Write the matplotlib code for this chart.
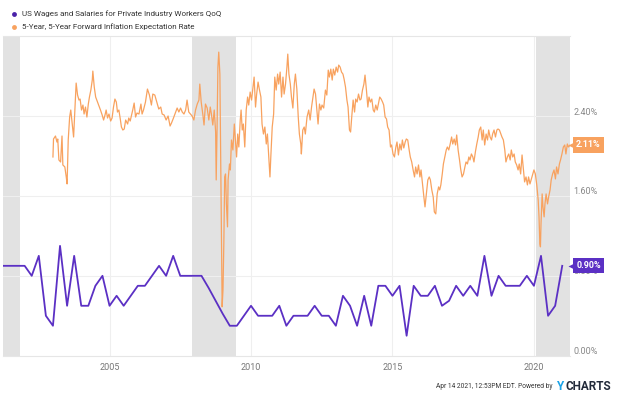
import matplotlib.pyplot as plt
import matplotlib.transforms as mtransforms
from matplotlib.lines import Line2D
import numpy as np

# quarterly QoQ wage growth (%), first quarter 2001 Q2
wage_start = 2001.25
wage_qoq = [0.9, 0.9, 0.9, 0.9, 0.8, 1.0, 0.4, 0.3, 1.1, 0.5,
            1.0, 0.5, 0.5, 0.7, 0.8, 0.5, 0.6, 0.5, 0.6, 0.7,
            0.7, 0.8, 0.9, 0.8, 1.0, 0.8, 0.8, 0.8, 0.8, 0.68,
            0.55, 0.42, 0.3, 0.3, 0.4, 0.5, 0.4, 0.4, 0.4, 0.5,
            0.3, 0.4, 0.4, 0.4, 0.5, 0.4, 0.4, 0.3, 0.6, 0.5,
            0.3, 0.6, 0.3, 0.7, 0.7, 0.6, 0.7, 0.2, 0.7, 0.6,
            0.6, 0.7, 0.5, 0.55, 0.7, 0.6, 0.7, 0.6, 1.0, 0.6,
            0.8, 0.7, 0.7, 0.7, 0.8, 0.7, 1.0, 0.4, 0.5, 0.9]

# 5y5y forward inflation expectation (%) (decimal years)
infl_years = [
    2003.00, 2003.02, 2003.09, 2003.14, 2003.17, 2003.21, 2003.27, 2003.32, 2003.35, 2003.42,
    2003.47, 2003.50, 2003.54, 2003.59, 2003.63, 2003.68, 2003.73, 2003.78, 2003.82, 2003.87,
    2003.92, 2003.96, 2004.01, 2004.06, 2004.10, 2004.15, 2004.20, 2004.25, 2004.29, 2004.34,
    2004.39, 2004.41, 2004.46, 2004.51, 2004.55, 2004.62, 2004.68, 2004.74, 2004.79, 2004.84,
    2004.88, 2004.93, 2004.98, 2005.04, 2005.09, 2005.14, 2005.19, 2005.24, 2005.28, 2005.33,
    2005.38, 2005.42, 2005.47, 2005.52, 2005.57, 2005.64, 2005.68, 2005.73, 2005.78, 2005.82,
    2005.87, 2005.92, 2005.97, 2006.04, 2006.11, 2006.15, 2006.20, 2006.27, 2006.34, 2006.41,
    2006.48, 2006.53, 2006.60, 2006.67, 2006.74, 2006.81, 2006.86, 2006.93, 2007.00, 2007.07,
    2007.14, 2007.19, 2007.26,
    2007.39, 2007.45, 2007.51, 2007.57, 2007.63, 2007.69, 2007.74, 2007.80, 2007.86, 2007.92,
    2007.98, 2008.04, 2008.10, 2008.16, 2008.19, 2008.24, 2008.30, 2008.34, 2008.39, 2008.45,
    2008.51, 2008.56, 2008.60, 2008.65, 2008.70, 2008.75, 2008.77, 2008.80, 2008.83, 2008.86,
    2008.90, 2008.93, 2008.96, 2008.98, 2009.01, 2009.04, 2009.07, 2009.10, 2009.13, 2009.17,
    2009.19, 2009.24, 2009.27, 2009.31, 2009.36, 2009.41, 2009.45, 2009.49, 2009.53, 2009.57,
    2009.62, 2009.65, 2009.69, 2009.73, 2009.78, 2009.83, 2009.88, 2009.92, 2009.97, 2010.02,
    2010.06, 2010.11, 2010.16, 2010.20, 2010.25, 2010.30, 2010.35, 2010.39, 2010.44, 2010.49,
    2010.54, 2010.58, 2010.63, 2010.67, 2010.70, 2010.75, 2010.80, 2010.84, 2010.89, 2010.94,
    2010.98, 2011.03, 2011.08, 2011.13, 2011.17, 2011.22, 2011.27, 2011.30, 2011.34, 2011.39,
    2011.43, 2011.48, 2011.53, 2011.57, 2011.62, 2011.67, 2011.71, 2011.76, 2011.78, 2011.83,
    2011.88, 2011.92,
    2011.98, 2012.04, 2012.09, 2012.14, 2012.19, 2012.23, 2012.28, 2012.33, 2012.37, 2012.42,
    2012.47, 2012.51, 2012.57, 2012.63, 2012.68, 2012.73, 2012.77, 2012.82, 2012.87, 2012.91,
    2012.96, 2013.01, 2013.06, 2013.10, 2013.15, 2013.20, 2013.25, 2013.29, 2013.34, 2013.39,
    2013.43, 2013.48, 2013.52, 2013.56, 2013.61, 2013.66, 2013.70, 2013.75, 2013.80, 2013.85,
    2013.89, 2013.94, 2013.99, 2014.03, 2014.08, 2014.13, 2014.17, 2014.22, 2014.27, 2014.32,
    2014.36, 2014.41, 2014.46, 2014.50, 2014.55, 2014.60, 2014.65, 2014.69, 2014.74, 2014.79,
    2014.83, 2014.88, 2014.93, 2014.97, 2015.02, 2015.07, 2015.12, 2015.16, 2015.21, 2015.26,
    2015.31, 2015.35, 2015.40, 2015.45, 2015.49, 2015.54, 2015.59, 2015.63, 2015.68, 2015.73,
    2015.78, 2015.82, 2015.87, 2015.92, 2015.97, 2016.01, 2016.06, 2016.11, 2016.15, 2016.20,
    2016.25, 2016.30, 2016.34, 2016.39, 2016.44, 2016.48, 2016.53, 2016.58, 2016.63, 2016.67,
    2016.71, 2016.76, 2016.80, 2016.85, 2016.90, 2016.94, 2016.99, 2017.04, 2017.09, 2017.13,
    2017.18, 2017.23, 2017.27, 2017.32, 2017.37, 2017.41, 2017.46, 2017.51, 2017.56, 2017.60,
    2017.65, 2017.70, 2017.74, 2017.79, 2017.84, 2017.88, 2017.93, 2017.98, 2018.03, 2018.07,
    2018.12, 2018.17, 2018.21, 2018.26, 2018.31, 2018.36, 2018.40, 2018.45, 2018.50, 2018.54,
    2018.59, 2018.64, 2018.69, 2018.73, 2018.78, 2018.83, 2018.87, 2018.92, 2018.97, 2019.01,
    2019.06, 2019.11, 2019.16, 2019.20, 2019.25, 2019.30, 2019.34, 2019.39, 2019.44, 2019.48,
    2019.53, 2019.58, 2019.63, 2019.67, 2019.72, 2019.77, 2019.81, 2019.86, 2019.91, 2019.96,
    2020.00, 2020.05, 2020.10, 2020.15, 2020.18, 2020.21, 2020.23, 2020.25, 2020.29, 2020.32,
    2020.36, 2020.39, 2020.43, 2020.48, 2020.52, 2020.57, 2020.61, 2020.66, 2020.71, 2020.76,
    2020.80, 2020.85, 2020.90, 2020.94, 2020.99, 2021.04, 2021.09, 2021.13, 2021.18, 2021.22,
    2021.28]
infl_rate = [
    1.99, 2.17, 2.20, 2.14, 2.17, 1.96, 1.94, 2.20, 1.91, 1.89,
    1.79, 1.72, 2.16, 2.39, 2.46, 2.32, 2.19, 2.49, 2.73, 2.61,
    2.56, 2.57, 2.46, 2.51, 2.42, 2.49, 2.39, 2.52, 2.59, 2.66,
    2.76, 2.85, 2.69, 2.59, 2.56, 2.51, 2.46, 2.41, 2.36, 2.41,
    2.46, 2.38, 2.42, 2.35, 2.38, 2.49, 2.57, 2.54, 2.44, 2.46,
    2.37, 2.29, 2.26, 2.27, 2.36, 2.32, 2.38, 2.35, 2.41, 2.46,
    2.53, 2.39, 2.43, 2.42, 2.52, 2.42, 2.46, 2.54, 2.67, 2.61,
    2.51, 2.62, 2.61, 2.54, 2.47, 2.49, 2.42, 2.41, 2.36, 2.40,
    2.30, 2.33, 2.38,
    2.48, 2.44, 2.48, 2.44, 2.42, 2.46, 2.56, 2.44, 2.42, 2.40,
    2.36, 2.46, 2.52, 2.56, 2.72, 2.54, 2.41, 2.31, 2.52, 2.48,
    2.36, 2.49, 2.42, 2.31, 2.46, 2.24, 1.76, 2.26, 2.89, 3.04,
    2.82, 1.92, 1.09, 0.49, 0.66, 1.13, 1.79, 1.82, 1.52, 1.29,
    1.76, 1.92, 1.86, 2.16, 2.06, 2.32, 2.16, 1.99, 2.22, 2.09,
    2.36, 2.46, 2.26, 2.32, 2.09, 2.46, 2.59, 2.51, 2.64, 2.56,
    2.66, 2.79, 2.49, 2.62, 2.74, 2.66, 2.59, 2.32, 2.22, 2.29,
    2.12, 2.22, 1.99, 1.79, 1.99, 2.29, 2.42, 2.79, 2.66, 2.82,
    2.72, 2.84, 2.59, 2.79, 2.62, 2.72, 2.89, 3.02, 2.82, 2.72,
    2.59, 2.48, 2.72, 2.82, 2.67, 2.39, 2.22, 2.12, 2.02, 2.26,
    2.29, 2.22,
    2.39, 2.46, 2.36, 2.49, 2.59, 2.67, 2.62, 2.46, 2.32, 2.52,
    2.46, 2.51, 2.48, 2.66, 2.61, 2.86, 2.79, 2.87, 2.76, 2.87,
    2.81, 2.89, 2.84, 2.91, 2.89, 2.84, 2.82, 2.77, 2.69, 2.56,
    2.49, 2.26, 2.24, 2.39, 2.56, 2.44, 2.57, 2.54, 2.62, 2.56,
    2.57, 2.66, 2.72, 2.81, 2.66, 2.49, 2.59, 2.54, 2.57, 2.46,
    2.44, 2.51, 2.46, 2.52, 2.59, 2.57, 2.54, 2.51, 2.39, 2.37,
    2.29, 2.26, 2.09, 2.11, 2.02, 1.99, 2.09, 2.14, 2.01, 2.12,
    2.06, 2.16, 2.08, 2.14, 2.17, 2.16, 2.06, 1.99, 1.94, 1.86,
    1.79, 1.89, 1.82, 1.91, 1.79, 1.86, 1.72, 1.59, 1.49, 1.62,
    1.76, 1.79, 1.76, 1.66, 1.59, 1.44, 1.42, 1.62, 1.69, 1.66,
    1.71, 1.82, 1.92, 1.99, 2.06, 2.09, 2.06, 2.12, 2.19, 2.12,
    2.17, 2.11, 2.21, 2.06, 1.96, 1.87, 1.79, 1.82, 1.89, 1.94,
    1.92, 1.99, 1.96, 2.02, 1.99, 1.94, 2.04, 2.12, 2.19, 2.26,
    2.29, 2.16, 2.26, 2.11, 2.22, 2.16, 2.26, 2.19, 2.16, 2.22,
    2.26, 2.19, 2.26, 2.27, 2.26, 2.22, 2.19, 2.16, 2.06, 1.94,
    1.99, 2.02, 1.96, 2.06, 1.99, 2.02, 1.94, 1.91, 1.86, 1.92,
    1.82, 2.01, 1.86, 1.74, 1.79, 1.71, 1.79, 1.72, 1.77, 1.82,
    1.86, 1.82, 1.71, 1.56, 1.39, 1.12, 1.09, 1.32, 1.62, 1.49,
    1.39, 1.52, 1.62, 1.52, 1.59, 1.66, 1.76, 1.82, 1.86, 1.77,
    1.89, 1.82, 1.92, 1.96, 2.02, 2.09, 2.11, 2.02, 2.12, 2.09,
    2.11]

recessions = [(2001.17, 2001.83), (2007.92, 2009.46), (2020.08, 2021.28)]
x_range = (2001.24, 2021.28)
xtick_years = [2005, 2010, 2015, 2020]
ytick_vals = [0.0, 0.8, 1.6, 2.4]

wage_label = "US Wages and Salaries for Private Industry Workers QoQ"
infl_label = "5-Year, 5-Year Forward Inflation Expectation Rate"

purple = "#5b30c4"
orange = "#f8a25f"
txt_font = ["Roboto", "DejaVu Sans"]

wage_years = wage_start + 0.25 * np.arange(len(wage_qoq))

fig = plt.figure(figsize=(6.3, 3.97), dpi=100)
ax = fig.add_axes([0.005, 0.104, 0.900, 0.805])

for a, b in recessions:
    ax.axvspan(a, b, color="#e2e2e2", lw=0, zorder=0)

for yv in ytick_vals[1:]:
    ax.axhline(yv, color="#efefef", lw=0.8, zorder=0.5)
for xv in xtick_years:
    ax.axvline(xv, color="#efefef", lw=0.8, zorder=0.5)

ax.plot(wage_years, wage_qoq, color=purple, lw=1.3, zorder=2)
ax.plot(infl_years, infl_rate, color=orange, lw=0.9, zorder=3)

ax.set_xlim(*x_range)
ax.set_ylim(0, 3.2)
for s in ["left", "right"]:
    ax.spines[s].set_visible(False)
for s in ["top", "bottom"]:
    ax.spines[s].set_color("#e6e6e6")
    ax.spines[s].set_linewidth(0.8)

ax.set_xticks(xtick_years)
ax.set_xticklabels([str(y) for y in xtick_years], family=txt_font,
                   fontsize=6.5, color="#777777")
ax.tick_params(axis="x", length=0, pad=5)
ax.set_yticks([])

ytrans = ax.get_yaxis_transform()
for yv in ytick_vals:
    ax.annotate("%.2f%%" % yv, xy=(1, yv), xycoords=ytrans,
                xytext=(3, 4), textcoords="offset pixels",
                ha="left", va="center", fontsize=6.5, color="#888888",
                family=txt_font, annotation_clip=False)

# value tags at the right edge
for val, col in [(infl_rate[-1], orange), (wage_qoq[-1], purple)]:
    tri = mtransforms.offset_copy(ytrans, fig=fig, x=4, y=0, units="dots")
    ax.plot([1.0], [val], marker="<", ms=8, color=col, mec="none",
            transform=tri, clip_on=False, zorder=5)
    ax.annotate("%.2f%%" % val, xy=(1, val), xycoords=ytrans,
                xytext=(6, 0), textcoords="offset pixels",
                ha="left", va="center", fontsize=6.5, color="white",
                fontweight="bold", family=txt_font, annotation_clip=False,
                bbox=dict(boxstyle="square,pad=0.35", fc=col, ec="none"),
                zorder=6)

# legend
for i, (lab, col) in enumerate([(wage_label, "#4a22a8"), (infl_label, orange)]):
    yy = 1 - (14 + 13 * i) / 397
    fig.add_artist(Line2D([14 / 630], [yy], marker="o", ms=3.5, color=col,
                          mec="none", transform=fig.transFigure))
    fig.text(22 / 630, yy, lab, ha="left", va="center", fontsize=5.8,
             color="#333333", family=txt_font)

# footer
fy = 1 - 387 / 397
fig.text(553 / 630, fy, "Apr 14 2021, 12:53PM EDT. Powered by", ha="right",
         va="center", fontsize=4.8, color="#333333", family=txt_font)
fig.text(557 / 630, fy, "Y", ha="left", va="center", fontsize=8.5,
         fontweight="bold", color="#1aa3e8", family=txt_font)
fig.text(566 / 630, fy, "CHARTS", ha="left", va="center", fontsize=8.5,
         fontweight="bold", color="#222a3a", family=txt_font)

fig.savefig("out.png", dpi=100)
